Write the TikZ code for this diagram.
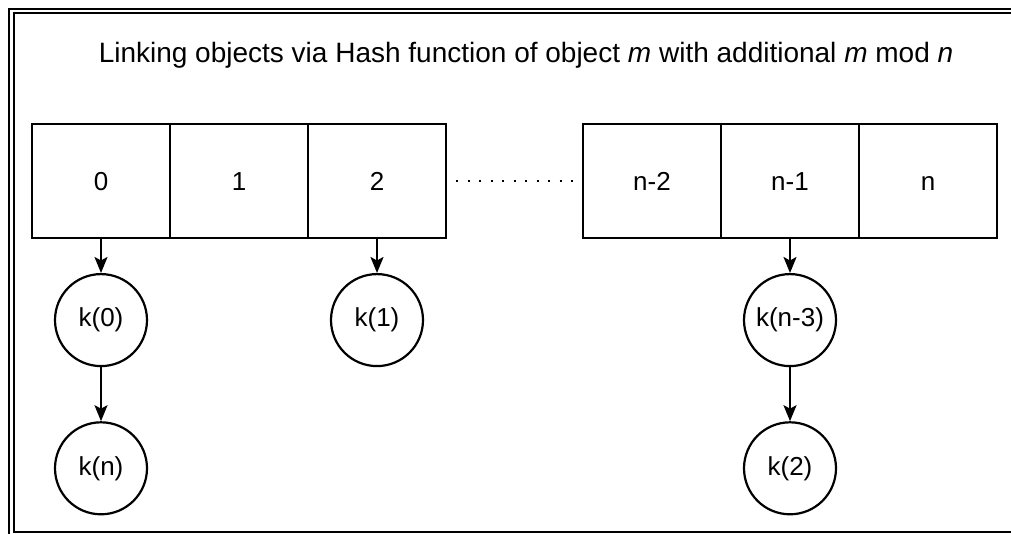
\documentclass[tikz,border=0pt]{standalone}
\usepackage{fontspec}
\setmainfont{Liberation Sans}
\usetikzlibrary{positioning, arrows.meta}

\begin{document}
\begin{tikzpicture}[
		x=1pt, y=-1pt,
		node distance = 0pt,                       % celdas pegadas
		cell/.style = {
			rectangle,
			draw,
			line width=2.2pt,
			outer sep=0pt,
			minimum width=138pt,
			minimum height=114pt,
			inner sep=0pt,
			text height=18.6pt,                     % misma linea base en todas
			text depth=0pt,
			font=\fontsize{26}{30}\selectfont
		},
		slot/.style = {
			circle,
			draw,
			line width=2.2pt,
			minimum size=92pt,
			inner sep=0pt,
			font=\fontsize{26}{30}\selectfont
		},
		link/.style = {
			-{Stealth[length=16pt, width=13pt, inset=3.5pt]},
			line width=2.2pt
		}
		]
		
		\useasboundingbox (0,0) rectangle (1011,534);
		\clip (0,0) rectangle (1011,534);
		
		% Marco doble
		\draw[line width=2pt] (9,9) rectangle (1030,560);
		\draw[line width=2pt] (13.5,13.5) rectangle (1020,532);
		
		% Titulo
		\node[font=\fontsize{28}{33}\selectfont] (title) at (526,55)
		{Linking objects via Hash function of object \textit{m} with additional \textit{m} mod \textit{n}};
		
		% Tabla - izquierda
		\node[cell] (c0) at (101,181) {0};
		\node[cell, right=of c0] (c1) {1};
		\node[cell, right=of c1] (c2) {2};
		
		% Tabla - derecha
		\node[cell] (cn2) at (652,181) {n-2};
		\node[cell, right=of cn2] (cn1) {n-1};
		\node[cell, right=of cn1] (cn) {n};
		
		\draw[line width=2.2pt, dash pattern=on 2pt off 9.5pt, shorten <=10pt, shorten >=8pt]
		(c2.east) -- (cn2.west);
		
		% Cadenas
		\node[slot, below=35pt of c0] (k0) {k(0)};
		\node[slot, below=54pt of k0] (kn) {k(n)};
		\node[slot, below=35pt of c2] (k1) {k(1)};
		\node[slot, below=35pt of cn1] (kn3) {k(n-3)};
		\node[slot, below=54pt of kn3] (k2) {k(2)};
		
		\draw[link] (c0) -- (k0);
		\draw[link] (k0) -- (kn);
		\draw[link] (c2) -- (k1);
		\draw[link] (cn1) -- (kn3);
		\draw[link] (kn3) -- (k2);
		
	\end{tikzpicture}
\end{document}
